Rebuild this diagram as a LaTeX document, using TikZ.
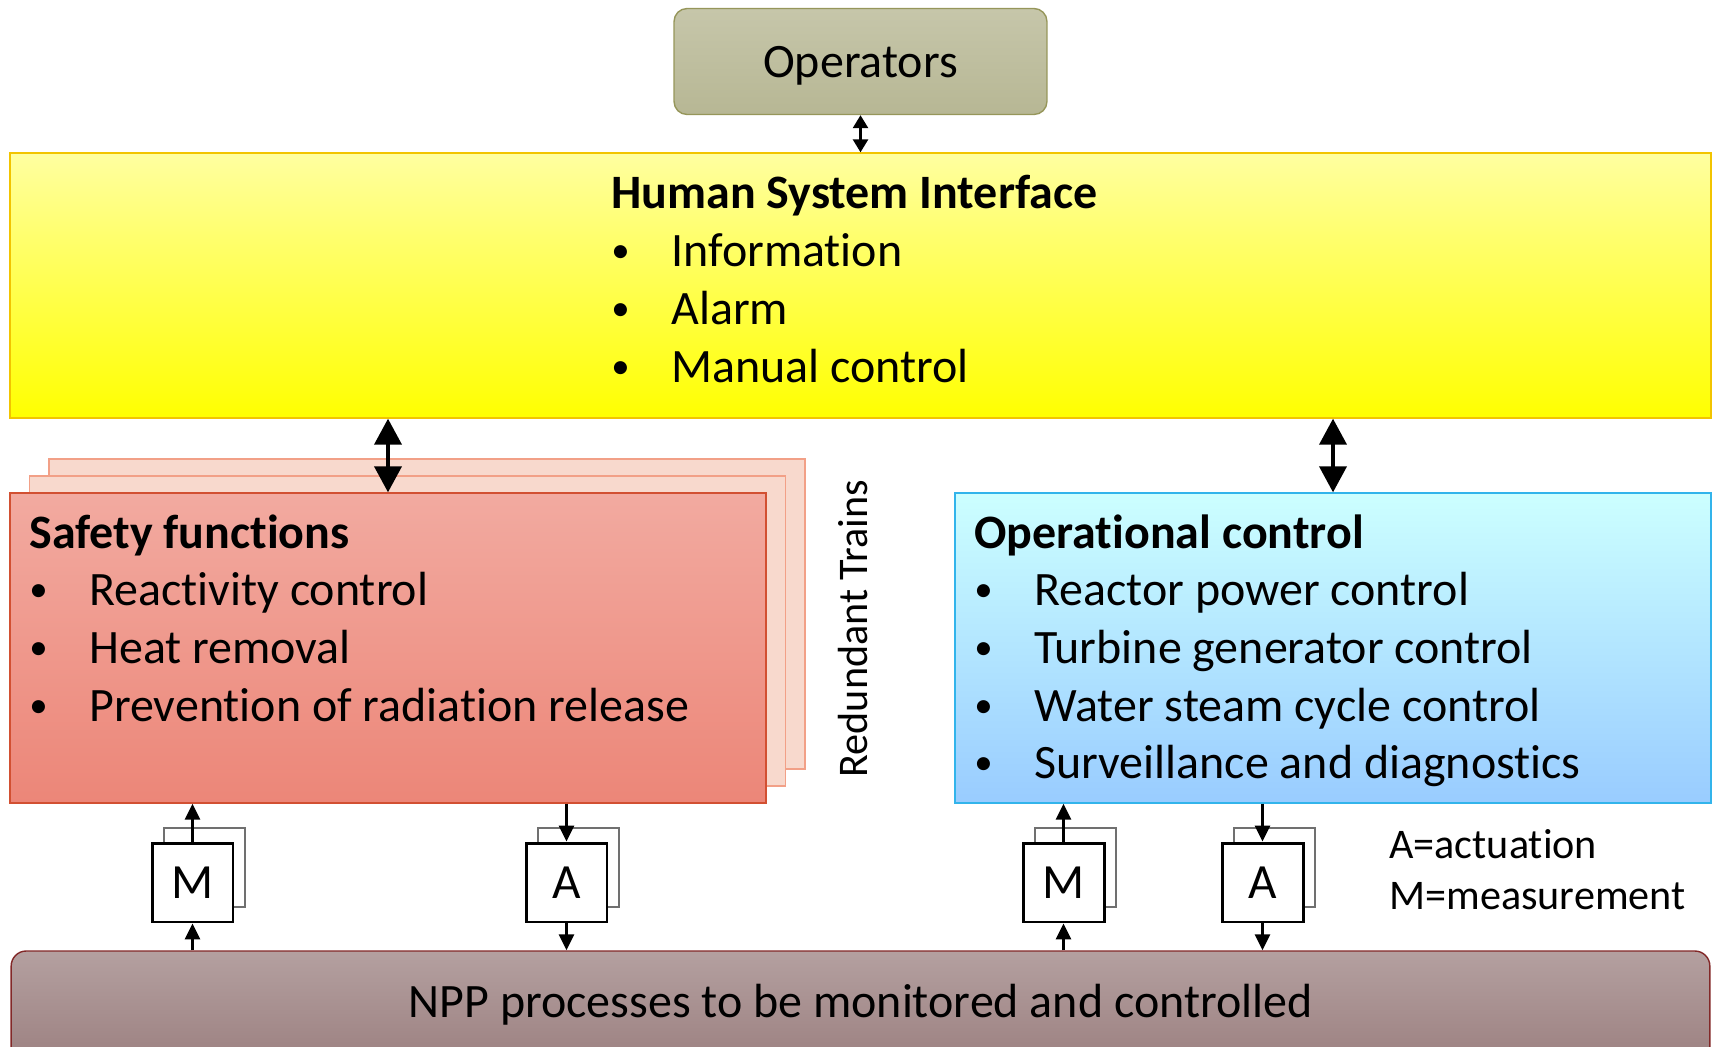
\documentclass[tikz,border=0pt]{standalone}
\usepackage{fontspec}
\setmainfont{Carlito}[Ligatures=NoCommon]
\usetikzlibrary{arrows.meta}

\definecolor{opsTop}{RGB}{198,198,170}
\definecolor{opsBot}{RGB}{183,183,148}
\definecolor{opsLine}{RGB}{150,150,90}
\definecolor{hsiTop}{RGB}{255,255,160}
\definecolor{hsiBot}{RGB}{255,255,0}
\definecolor{hsiLine}{RGB}{242,196,0}
\definecolor{sfTop}{RGB}{242,170,160}
\definecolor{sfBot}{RGB}{236,134,120}
\definecolor{sfLine}{RGB}{210,80,50}
\definecolor{sfBack}{RGB}{248,217,205}
\definecolor{sfBackLine}{RGB}{242,160,135}
\definecolor{ocTop}{RGB}{204,255,255}
\definecolor{ocBot}{RGB}{153,204,255}
\definecolor{ocLine}{RGB}{50,180,235}
\definecolor{nppTop}{RGB}{180,160,160}
\definecolor{nppBot}{RGB}{148,118,118}
\definecolor{nppLine}{RGB}{130,40,40}
\definecolor{backGray}{RGB}{112,112,112}

\tikzset{
  bigfont/.style={font=\fontsize{27.3}{32.8}\selectfont},
  smallfont/.style={font=\fontsize{24}{29}\selectfont},
  title/.style={font=\fontsize{27.3}{32.8}\selectfont\bfseries, anchor=base west, inner sep=0pt},
  item/.style={bigfont, anchor=base west, inner sep=0pt},
  panel/.style={rectangle, minimum width=15.12cm, minimum height=6.2cm, line width=0.8pt},
  sensor/.style={draw=black, fill=white, line width=1.7pt, minimum width=1.62cm,
    minimum height=1.58cm, inner sep=0pt, font=\fontsize{28}{32}\selectfont},
  sensorback/.style={draw=backGray, line width=1.2pt, minimum width=1.62cm, minimum height=1.58cm},
  bigarrow/.style={{Triangle[length=0.52cm,width=0.54cm]}-{Triangle[length=0.52cm,width=0.54cm]}, line width=2.2pt},
  smallarrow/.style={-{Triangle[length=0.32cm,width=0.3cm]}, line width=1.6pt},
}
\newcommand{\bul}[1]{\makebox[1.2cm][l]{\raisebox{0.08cm}{\fontsize{21}{21}\selectfont •}}#1}

\begin{document}
\begin{tikzpicture}[x=0.02cm, y=-0.02cm]
    \useasboundingbox (0,0) rectangle (1713,1047);
    \clip (0,0) rectangle (1713,1047);

    % Operators
    \node[rectangle, rounded corners=0.26cm, draw=opsLine, line width=0.8pt, top color=opsTop, bottom color=opsBot,
        minimum width=7.46cm, minimum height=2.12cm, text height=0.84cm, text depth=0.19cm, bigfont]
        (ops) at (860.5,61.5) {Operators};

    % Human System Interface
    \node[rectangle, draw=hsiLine, line width=0.8pt, top color=hsiTop, bottom color=hsiBot,
        minimum width=34.02cm, minimum height=5.3cm] (hsi) at (860.5,285.5) {};
    \node[title] (hsititle) at (611,209) {Human System Interface};
    \foreach \t [count=\i] in {Information, Alarm, Manual control}
        \node[item] (hsi-\i) at (611,{209+\i*57.7}) {\bul{\t}};

    % Safety functions, redundant trains behind
    \node[panel, draw=sfBackLine, fill=sfBack] (sfback2) at (427,614) {};
    \node[panel, draw=sfBackLine, fill=sfBack] (sfback1) at (407.5,631) {};
    \node[panel, draw=sfLine, top color=sfTop, bottom color=sfBot] (sf) at (388,648) {};
    \node[title] (sftitle) at (29,548) {Safety functions};
    \foreach \t [count=\i] in {Reactivity control, Heat removal, Prevention of radiation release}
        \node[item] (sf-\i) at (29,{548+\i*57.7}) {\bul{\t}};
    \node[smallfont, rotate=90, anchor=base, inner sep=0pt] (trains) at (867,628.5) {Redundant Trains};

    % Operational control
    \node[panel, draw=ocLine, top color=ocTop, bottom color=ocBot] (oc) at (1333,648) {};
    \node[title] (octitle) at (974,548) {Operational control};
    \foreach \t [count=\i] in {Reactor power control, Turbine generator control,
        Water steam cycle control, Surveillance and diagnostics}
        \node[item] (oc-\i) at (974,{548+\i*57.7}) {\bul{\t}};

    % NPP processes
    \node[rectangle, rounded corners=0.3cm, draw=nppLine, line width=0.8pt, top color=nppTop, bottom color=nppBot,
        minimum width=33.98cm, minimum height=2.98cm] (npp) at (860.5,1025.5) {};
    \node[bigfont, anchor=base, inner sep=0pt] (npptext) at (860.5,1017) {NPP processes to be monitored and controlled};

    % measurement and actuation
    \foreach \n/\t/\px in {m1/M/192.5, a1/A/566.5, m2/M/1063.5, a2/A/1262.5} {
        \node[sensorback] (\n b) at (\px+12,867.5) {};
        \node[sensor] (\n) at (\px,882.5) {\t};
    }
    \node[smallfont, anchor=base west, inner sep=0pt] (legA) at (1389,858) {A=actuation};
    \node[smallfont, anchor=base west, inner sep=0pt] (legM) at (1389,909) {M=measurement};

    % connectors
    \draw[{Triangle[length=0.26cm,width=0.3cm]}-{Triangle[length=0.26cm,width=0.3cm]}, line width=1.5pt]
        (ops.south) -- (hsi.north -| ops.south);
    \draw[bigarrow] (hsi.south -| sf.north) -- (sf.north);
    \draw[bigarrow] (hsi.south -| oc.north) -- (oc.north);
    \draw[smallarrow] (m1.north) -- (m1.north |- sf.south);
    \draw[smallarrow] (m1.south |- npp.north) -- (m1.south);
    \draw[smallarrow] (a1.north |- sf.south) -- (a1.north);
    \draw[smallarrow] (a1.south) -- (a1.south |- npp.north);
    \draw[smallarrow] (m2.north) -- (m2.north |- oc.south);
    \draw[smallarrow] (m2.south |- npp.north) -- (m2.south);
    \draw[smallarrow] (a2.north |- oc.south) -- (a2.north);
    \draw[smallarrow] (a2.south) -- (a2.south |- npp.north);
\end{tikzpicture}
\end{document}
